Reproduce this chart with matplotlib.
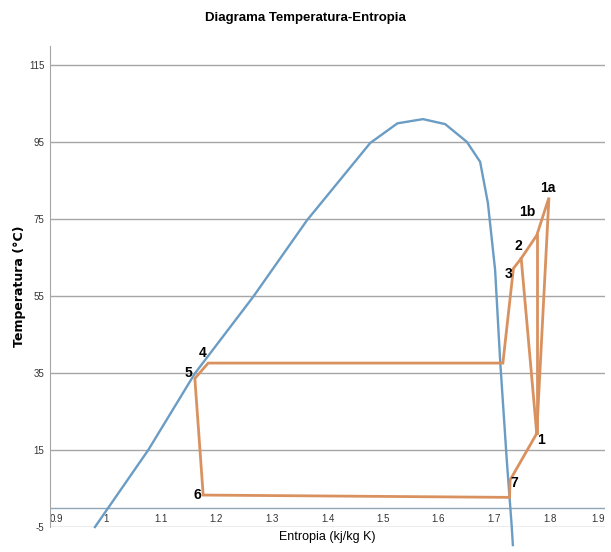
import numpy as np
import matplotlib
matplotlib.use('Agg')
import matplotlib.pyplot as plt

plt.rcParams['font.family'] = ['Liberation Sans', 'DejaVu Sans']

# Curva de saturacion (entropia, temperatura)
dome_s = [0.981, 1.077, 1.161, 1.266, 1.363, 1.477, 1.526, 1.572, 1.612, 1.651,
          1.675, 1.689, 1.702, 1.711, 1.723, 1.732, 1.734]
dome_t = [-5.0, 15.0, 34.9, 54.8, 74.7, 94.8, 99.9, 101.0, 99.7, 95.1,
          89.9, 79.2, 61.8, 38.4, 12.4, -5.0, -9.7]

# Estados del ciclo
states = ['1', '1a', '1b', '2', '3', '4', '4b', '5', '6', '7b', '7']
state_s = [1.777, 1.799, 1.777, 1.749, 1.735, 1.185, 1.716, 1.161, 1.176, 1.728, 1.729]
state_t = [19.3, 80.6, 70.8, 64.8, 62.2, 37.6, 37.6, 33.6, 3.3, 2.7, 7.2]

paths = [['1', '7', '7b', '6', '5', '4', '4b', '3', '2', '1b', '1a', '1'],
         ['2', '1'],
         ['1b', '1']]

# etiquetas y desplazamiento (pixeles)
labels = ['1a', '1b', '2', '3', '4', '5', '6', '7', '1']
label_off = [(-1, 10), (-9, 23), (-3, 12), (-5, -6), (-6, 10), (-6, 5), (-6, 0), (4, -3), (4, -7)]

x_ticks = [0.9, 1, 1.1, 1.2, 1.3, 1.4, 1.5, 1.6, 1.7, 1.8, 1.9]
y_ticks = [-5, 15, 35, 55, 75, 95, 115]

blue = '#6a9cc4'
orange = '#d9925f'

fig = plt.figure(figsize=(6.11, 5.52), dpi=100)
ax = fig.add_axes([50 / 611, 25 / 552, 555 / 611, 481 / 552])

ax.plot(dome_s, dome_t, color=blue, lw=1.7, zorder=2, clip_on=False)

idx = {n: i for i, n in enumerate(states)}
for p in paths:
    ax.plot([state_s[idx[n]] for n in p], [state_t[idx[n]] for n in p],
            color=orange, lw=2, zorder=3, solid_joinstyle='miter')

for lab, off in zip(labels, label_off):
    i = idx[lab]
    ax.annotate(lab, (state_s[i], state_t[i]), xytext=off, textcoords='offset pixels',
                ha='center', va='center', fontsize=10, fontweight='bold', color='black')

ax.set_xlim(0.9, 1.9)
ax.set_ylim(-5, 120)
ax.set_xticks(x_ticks)
ax.set_xticklabels([f'{v:g}' for v in x_ticks])
ax.set_yticks(y_ticks)
ax.set_yticklabels([str(v) for v in y_ticks])
ax.tick_params(axis='both', length=0, labelsize=7, colors='#333333')
ax.tick_params(axis='x', pad=-9)
ax.tick_params(axis='y', pad=4)
xl = ax.xaxis.get_majorticklabels()
xl[0].set_ha('left')
xl[-1].set_ha('right')

ax.grid(axis='y', color='#a6a6a6', lw=1)
ax.axhline(0, color='#8fa6b8', lw=1, zorder=1)
for sp in ['top', 'right', 'bottom']:
    ax.spines[sp].set_visible(False)
ax.spines['left'].set_color('#a6a6a6')

ax.set_xlabel('Entropia (kj/kg K)', fontsize=9, labelpad=3)
ax.set_ylabel('Temperatura (°C)', fontsize=9, fontweight='bold', labelpad=2,
              family='DejaVu Sans')
fig.text(0.5, 1 - 18 / 552, 'Diagrama Temperatura-Entropia', ha='center', va='center',
         fontsize=9.5, fontweight='bold')

fig.savefig('out.png', dpi=100)
